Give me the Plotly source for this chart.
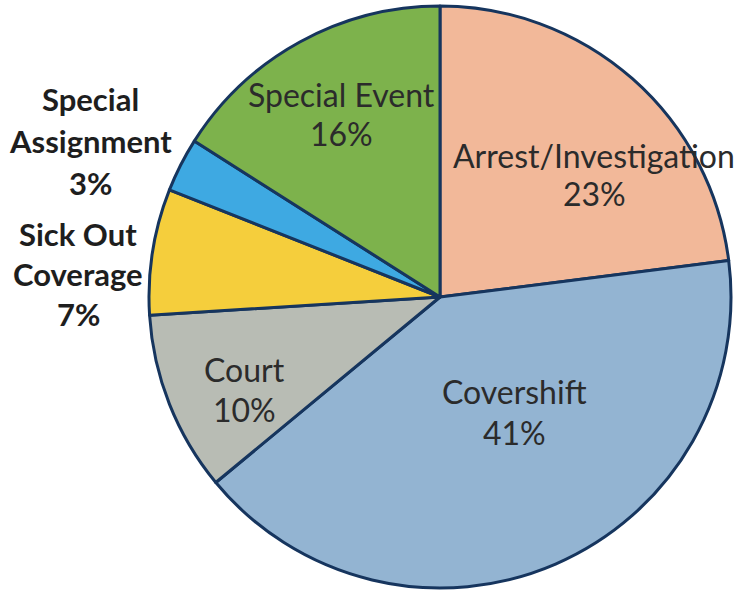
import plotly.graph_objects as go

# Overtime hours by category (share of total, %)
categories = ["Arrest/Investigation", "Covershift", "Court",
              "Sick Out Coverage", "Special Assignment", "Special Event"]
shares = [23, 41, 10, 7, 3, 16]
colors = ["#F2B899", "#93B4D2", "#B8BCB4", "#F5CE3C", "#3EA9E2", "#7DB24C"]

# Wrapped label text as it is printed beside/in each slice
label_lines = [["Arrest/Investigation"], ["Covershift"], ["Court"],
               ["Sick Out", "Coverage"], ["Special", "Assignment"], ["Special Event"]]
outside = [False, False, False, True, True, False]

W, H = 739, 593
cx, cy, r = 440, 297, 291

fig = go.Figure(go.Pie(
    labels=categories,
    values=shares,
    sort=False,
    direction="clockwise",
    rotation=0,
    marker=dict(colors=colors, line=dict(color="#16355E", width=3)),
    textinfo="none",
    hoverinfo="label+percent",
    domain=dict(x=[(cx - r) / W, (cx + r) / W],
                y=[(H - cy - r) / H, (H - cy + r) / H]),
    showlegend=False,
))

# label anchor (pixel centre of first line) and line spacing for each slice
anchors = [(594, 155), (514, 392), (244, 369), (78, 234), (90, 99), (341, 95)]
spacing = [38, 40, 40, 40, 42, 38]

annotations = []
for lines, val, out, (x, y), dy in zip(label_lines, shares, outside, anchors, spacing):
    rows = lines + [f"{val}%"]
    for i, row in enumerate(rows):
        annotations.append(dict(
            x=x / W, y=1 - (y + i * dy) / H, xref="paper", yref="paper",
            text=f"<b>{row}</b>" if out else row, showarrow=False,
            xanchor="center", yanchor="middle",
            font=dict(family="Lato", size=31 if out else 32,
                      color="#1E1E1E" if out else "#2B2B2B"),
        ))

fig.update_layout(
    width=W, height=H,
    margin=dict(l=0, r=0, t=0, b=0),
    paper_bgcolor="white", plot_bgcolor="white",
    annotations=annotations,
)

fig.write_html("out.html")
